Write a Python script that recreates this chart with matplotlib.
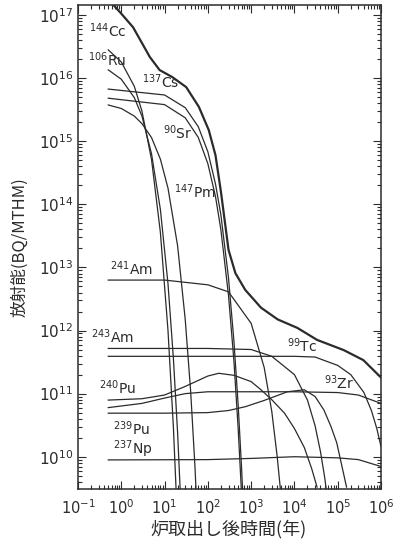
import numpy as np
import matplotlib.pyplot as plt
from matplotlib.ticker import LogLocator, NullFormatter

plt.rcParams['font.family'] = ['DejaVu Sans', 'Noto Sans CJK JP']

# years after discharge / activity (Bq/MTHM)
t_total = [0.5, 0.66, 1.0, 1.87, 3, 4.56, 7.7, 15, 31.6, 62, 105, 150, 200, 300, 433, 731,
           1690, 4100, 11700, 33400, 1.37e5, 3.9e5, 1e6]
a_total = [1.8e17, 1.44e17, 1.05e17, 6.4e16, 3.6e16, 2.16e16, 1.34e16, 1.04e16, 7.2e15, 3.5e15,
           1.5e15, 6e14, 1.6e14, 1.9e13, 8.1e12, 4.4e12, 2.3e12, 1.5e12, 1.1e12, 7.1e11,
           4.9e11, 3.4e11, 1.8e11]

t_ce = [0.5, 1, 2, 3, 5, 8, 12, 16, 20]
a_ce = [2.8e16, 1.8e16, 7.4e15, 3.0e15, 5.1e14, 3.6e13, 1.0e12, 2.9e10, 8.3e8]

t_ru = [0.5, 1, 2, 3, 5, 8, 12, 16, 20, 25]
a_ru = [1.35e16, 9.6e15, 4.9e15, 2.5e15, 6.3e14, 8.3e13, 5.5e12, 3.6e11, 2.4e10, 8e8]

t_cs = [0.5, 10, 30, 60, 100, 150, 200, 300, 400, 500, 600, 700]
a_cs = [6.7e15, 5.4e15, 3.4e15, 1.7e15, 6.8e14, 2.1e14, 6.8e13, 6.8e12, 6.8e11, 6.8e10, 6.8e9, 6.8e8]

t_sr = [0.5, 10, 30, 60, 100, 150, 200, 300, 400, 500, 600]
a_sr = [4.8e15, 3.8e15, 2.35e15, 1.15e15, 4.4e14, 1.33e14, 3.95e13, 3.6e12, 3.3e11, 2.9e10, 2.6e9]

t_pm = [0.5, 1, 2, 3, 5, 8, 12, 20, 30, 40, 50, 60]
a_pm = [3.75e15, 3.3e15, 2.5e15, 1.9e15, 1.14e15, 5.2e14, 1.8e14, 2.2e13, 1.5e12, 1.1e11, 7.7e9, 5.4e8]

t_am241 = [0.5, 10, 100, 300, 1000, 2000, 3000, 4000, 5000]
a_am241 = [6.3e12, 6.3e12, 5.3e12, 4.1e12, 1.3e12, 2.6e11, 5.2e10, 1.0e10, 2.1e9]

t_am243 = [0.5, 100, 1000, 3000, 1e4, 2e4, 3e4, 4e4, 5e4, 6e4]
a_am243 = [5.2e11, 5.2e11, 5.0e11, 3.9e11, 2.0e11, 7.9e10, 3.1e10, 1.2e10, 4.7e9, 1.8e9]

t_tc = [0.5, 1e3, 1e4, 3e4, 1e5, 2e5, 4e5, 6e5, 8e5, 1e6]
a_tc = [3.9e11, 3.9e11, 3.9e11, 3.8e11, 2.8e11, 2.0e11, 1.05e11, 5.4e10, 2.8e10, 1.45e10]

t_zr = [0.5, 3, 10, 30, 100, 1e3, 1e4, 1e5, 3e5, 1e6]
a_zr = [6e10, 7e10, 8.5e10, 1.0e11, 1.07e11, 1.07e11, 1.07e11, 1.04e11, 9.5e10, 7e10]

t_pu240 = [0.5, 3, 10, 30, 100, 178, 400, 1000, 1690, 3000, 5900, 10000, 16900, 25000, 33300]
a_pu240 = [7.9e10, 8.3e10, 9.5e10, 1.3e11, 1.9e11, 2.1e11, 1.95e11, 1.55e11, 1.15e11, 8.0e10,
           4.9e10, 2.8e10, 1.4e10, 6.5e9, 3.3e9]

t_pu239 = [0.5, 10, 100, 300, 730, 2000, 6900, 16900, 30000, 48000, 70000, 95000, 1.6e5]
a_pu239 = [4.9e10, 4.9e10, 5.0e10, 5.4e10, 6.2e10, 7.8e10, 1.07e11, 1.15e11, 9e10, 5.5e10,
           3.0e10, 1.66e10, 3.3e9]

t_np = [0.5, 100, 1e3, 1e4, 1e5, 3e5, 1e6]
a_np = [8.9e9, 9.0e9, 9.4e9, 1.0e10, 9.6e9, 9.0e9, 7.0e9]

series = [(t_ce, a_ce), (t_ru, a_ru), (t_cs, a_cs), (t_sr, a_sr), (t_pm, a_pm),
          (t_am241, a_am241), (t_am243, a_am243), (t_tc, a_tc), (t_zr, a_zr),
          (t_pu240, a_pu240), (t_pu239, a_pu239), (t_np, a_np)]

# label text, x (years), y (Bq)
labels = [(r'$^{144}$Cc', 0.178, 5.6e16), (r'$^{106}$Ru', 0.17, 1.94e16),
          (r'$^{137}$Cs', 3.0, 8.7e15), (r'$^{90}$Sr', 9.0, 1.35e15),
          (r'$^{147}$Pm', 16.9, 1.6e14), (r'$^{241}$Am', 0.56, 9.4e12),
          (r'$^{243}$Am', 0.197, 8e11), (r'$^{240}$Pu', 0.30, 1.26e11),
          (r'$^{239}$Pu', 0.66, 2.8e10), (r'$^{237}$Np', 0.66, 1.3e10),
          (r'$^{99}$Tc', 6900, 5.7e11), (r'$^{93}$Zr', 4.8e4, 1.5e11)]

ink = '#2b2b2b'
fig = plt.figure(figsize=(3.94, 5.46), dpi=100)
ax = fig.add_axes([78 / 394, 57 / 546, 303 / 394, 484 / 546])

for t, a in series:
    ax.plot(t, a, color=ink, lw=0.9)
ax.plot(t_total, a_total, color=ink, lw=1.6)

for txt, x, y in labels:
    ax.text(x, y, txt, fontsize=10, color=ink, ha='left', va='center')

ax.set_xscale('log')
ax.set_yscale('log')
ax.set_xlim(0.1, 1e6)
ax.set_ylim(3.08e9, 1.44e17)

for axis in (ax.xaxis, ax.yaxis):
    axis.set_major_locator(LogLocator(base=10, numticks=20))
    axis.set_minor_locator(LogLocator(base=10, subs=np.arange(2, 10), numticks=20))
    axis.set_minor_formatter(NullFormatter())

ax.tick_params(which='both', direction='in', top=True, right=True, colors=ink,
               labelsize=11, width=0.8)
ax.tick_params(which='major', length=6)
ax.tick_params(which='minor', length=3)
ax.tick_params(axis='x', pad=7, labelsize=10.5)
for s in ax.spines.values():
    s.set_linewidth(1.1)
    s.set_color(ink)

ax.set_ylabel('放射能(BQ/MTHM)', fontsize=12, color=ink, family=['Noto Sans CJK JP', 'DejaVu Sans'])
ax.yaxis.set_label_coords(-50 / 303, 0.5)
ax.set_xlabel('炉取出し後時間(年)', fontsize=13, color=ink, family=['Noto Sans CJK JP', 'DejaVu Sans'])
ax.xaxis.set_label_coords(150 / 303, -31 / 484)

fig.savefig('out.png', dpi=100)
